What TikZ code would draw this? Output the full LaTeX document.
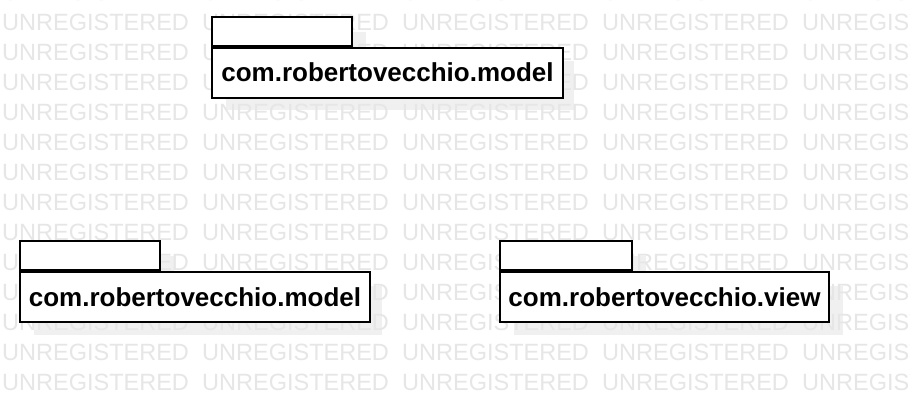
\documentclass[tikz,border=0pt]{standalone}
\usepackage{fontspec}
\setmainfont{Liberation Sans}
\definecolor{wmark}{HTML}{E6E6E6}
\definecolor{shade}{HTML}{F0F0F0}
\tikzset{
  x=1pt,y=-1pt,
  wm/.style={text=wmark,font=\fontsize{23.5}{28}\selectfont,anchor=west,inner sep=0pt},
  pkgbody/.style={draw=black,fill=white,line width=2pt,inner sep=0pt,minimum height=50pt,font=\fontsize{26}{30}\selectfont\bfseries},
  pkgtab/.style={draw=black,fill=white,line width=2pt,inner sep=0pt,minimum height=29pt,anchor=south west},
  shadow/.style={fill=shade,draw=none}
}
\begin{document}
\begin{tikzpicture}
\useasboundingbox[fill=white] (0,0) rectangle (910,402);
% shadows
\fill[shadow] (226,61) rectangle (574,110);
\fill[shadow] (352,32) rectangle (366,61);
\fill[shadow] (34,286) rectangle (382,335);
\fill[shadow] (160,256) rectangle (174,286);
\fill[shadow] (514,286) rectangle (843,335);
\fill[shadow] (632,256) rectangle (646,286);
% watermark
\foreach \r in {0,...,13}{
  \foreach \c in {0,...,4}{
    \node[wm] (w\r-\c) at ({2+200*\c},{-8+30*\r}) {UNREGISTERED};
  }
}
% packages
\node[pkgbody,minimum width=351pt] (m1) at (387.5,72.5) {com.robertovecchio.model};
\node[pkgtab,minimum width=140pt] (t1) at (m1.north west) {};
\node[pkgbody,minimum width=350pt] (m2) at (195,297) {com.robertovecchio.model};
\node[pkgtab,minimum width=140pt] (t2) at (m2.north west) {};
\node[pkgbody,minimum width=329pt] (v) at (664.5,297) {com.robertovecchio.view};
\node[pkgtab,minimum width=132pt] (t3) at (v.north west) {};
\end{tikzpicture}
\end{document}
